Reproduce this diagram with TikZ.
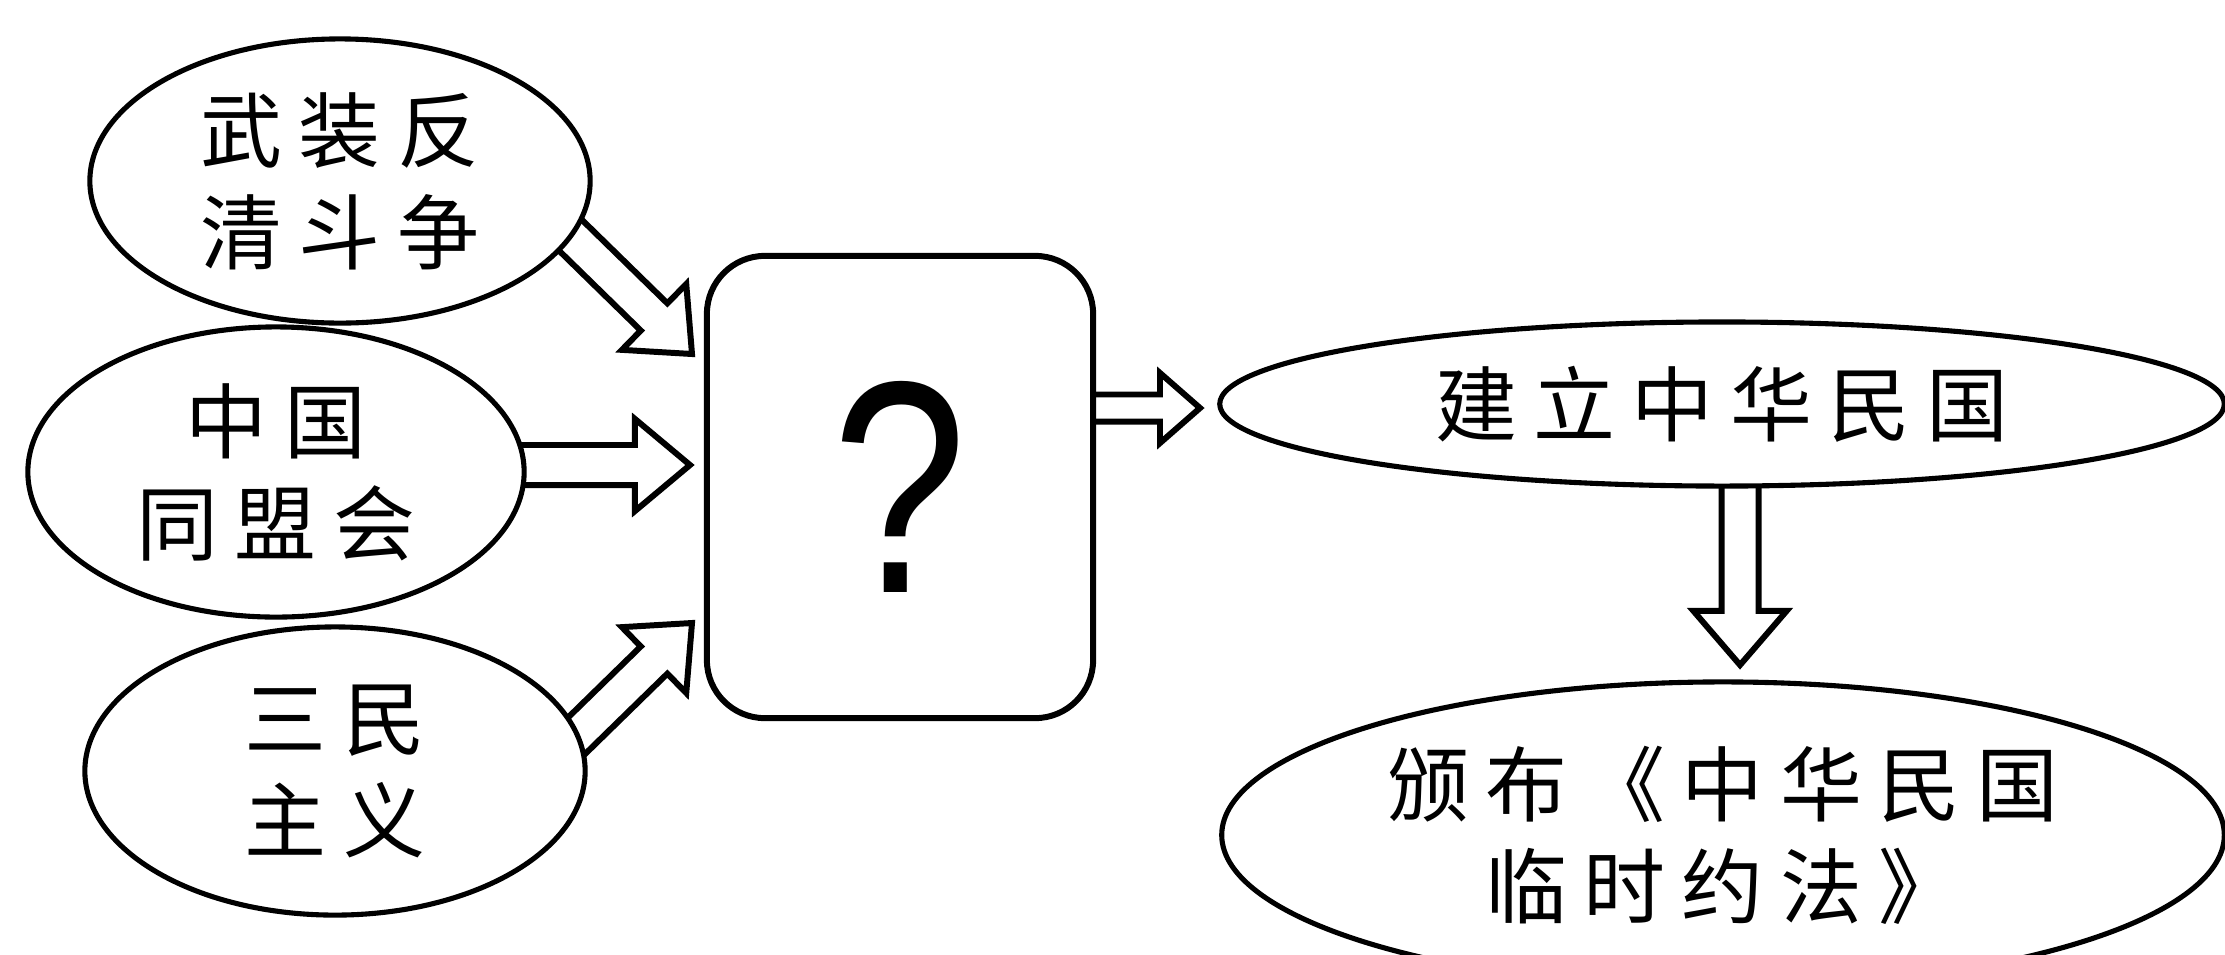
\documentclass[tikz,border=0pt]{standalone}
\usepackage{fontspec}
\usepackage{graphicx}
\newfontfamily\cjkfont[LetterSpace=20]{Noto Sans CJK SC}
\newfontfamily\qfont{Liberation Sans}
\usetikzlibrary{shapes.geometric,calc}
\pgfdeclarelayer{bg}
\pgfsetlayers{bg,main}
\tikzset{
  ell/.style={ellipse, draw, line width=1.45pt, fill=white, inner sep=0pt, align=center,
    font=\cjkfont\fontsize{23.3pt}{29pt}\selectfont},
  qbox/.style={draw, rounded corners=0.58cm, line width=1.7pt, fill=white,
    minimum width=3.86cm, minimum height=4.62cm, inner sep=0pt},
  blockarrow/.style={draw, fill=white, line width=1.7pt, line join=miter},
}
% #1 start, #2 tip, #3 half shaft width, #4 half head width, #5 head length
\newcommand{\hollowarrow}[5]{%
  \coordinate (hb) at ($(#2)!#5!(#1)$);
  \draw[blockarrow] ($(#1)!#3!90:(#2)$) -- ($(hb)!#3!-90:(#1)$) -- ($(hb)!#4!-90:(#1)$)
    -- (#2) -- ($(hb)!#4!90:(#1)$) -- ($(hb)!#3!90:(#1)$) -- ($(#1)!#3!-90:(#2)$) -- cycle;
}
\begin{document}
\begin{tikzpicture}[x=0.01cm, y=-0.01cm]
  \useasboundingbox (0,0) rectangle (2225,954);
  \begin{pgfonlayer}{bg}
    \fill[white] (0,0) rectangle (2225,954);
  \end{pgfonlayer}

  % nodes
  \node[ell, minimum width=5.0cm, minimum height=2.84cm] (e1) at (340,181) {武装反\\清斗争};
  \node[ell, minimum width=4.96cm, minimum height=2.90cm] (e2) at (276,472) {中国\\同盟会};
  \node[ell, minimum width=5.0cm, minimum height=2.88cm] (e3) at (335,771) {三民\\主义};
  \node[qbox] (box) at (900,487) {\qfont\fontsize{86pt}{90pt}\selectfont\scalebox{0.8}[1]{?}};
  \node[ell, minimum width=10.04cm, minimum height=1.64cm] (e4) at (1722,404) {建立中华民国};
  \node[ell, minimum width=10.02cm, minimum height=3.06cm] (e5) at (1723,835) {颁布《中华民国\\临时约法》};

  % arrow end points
  \coordinate (sA) at (560,225);  \coordinate (tA) at (692,354);
  \coordinate (sB) at (500,465);  \coordinate (tB) at (690,465);
  \coordinate (sC) at (562,750);  \coordinate (tC) at (692,623);
  \coordinate (sD) at (1080,408); \coordinate (tD) at (1200,408);
  \coordinate (sE) at (1740,470); \coordinate (tE) at (1740,665);

  \begin{pgfonlayer}{bg}
    \hollowarrow{sA}{tA}{0.19cm}{0.46cm}{0.53cm}
    \hollowarrow{sB}{tB}{0.20cm}{0.46cm}{0.55cm}
    \hollowarrow{sC}{tC}{0.19cm}{0.46cm}{0.53cm}
    \hollowarrow{sD}{tD}{0.135cm}{0.35cm}{0.40cm}
    \hollowarrow{sE}{tE}{0.185cm}{0.465cm}{0.54cm}
  \end{pgfonlayer}
\end{tikzpicture}
\end{document}
